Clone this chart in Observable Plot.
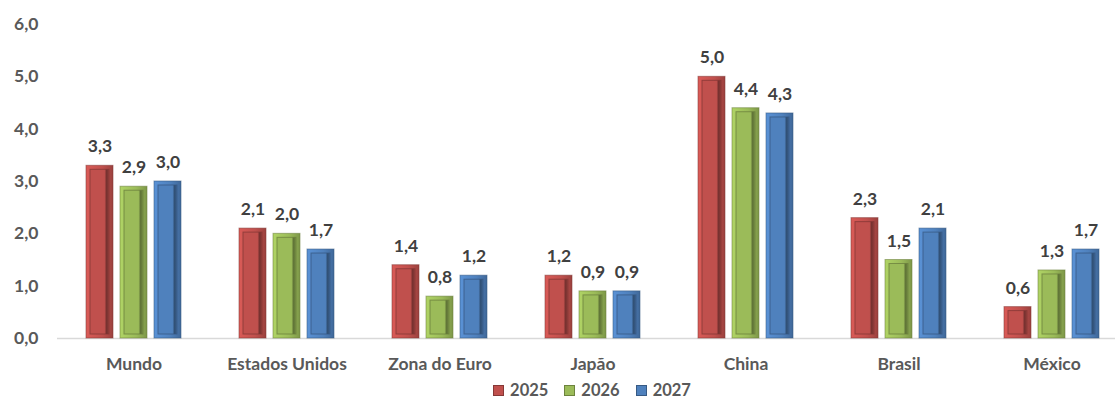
<!DOCTYPE html>
<html>
<head>
<meta charset="utf-8">
<script src="https://cdn.jsdelivr.net/npm/d3@7"></script>
<script src="https://cdn.jsdelivr.net/npm/@observablehq/plot@0.6"></script>
<style>
  body { margin: 0; background: #fff; font-family: Lato, "Open Sans", sans-serif; overflow: hidden; }
  #chart { height: 378px; }
  #legend {
    display: flex; justify-content: center; align-items: center;
    margin-left: 56px; width: 1072px; height: 19px; padding-top: 3px;
    font-weight: 700; font-size: 16.5px; line-height: 19px; color: #595959;
  }
  .item { display: flex; align-items: center; margin: 0 8px; }
  .sw { width: 9px; height: 9px; margin-right: 6px; border: 1px solid; }
</style>
</head>
<body>
<div id="chart"></div>
<div id="legend"></div>
<script>
// Projected GDP growth (%) by economy
const regions = ["Mundo", "Estados Unidos", "Zona do Euro", "Japão", "China", "Brasil", "México"];
const years = ["2025", "2026", "2027"];
const v2025 = [3.3, 2.1, 1.4, 1.2, 5.0, 2.3, 0.6];
const v2026 = [2.9, 2.0, 0.8, 0.9, 4.4, 1.5, 1.3];
const v2027 = [3.0, 1.7, 1.2, 0.9, 4.3, 2.1, 1.7];
const yTicks = [0, 1, 2, 3, 4, 5, 6];
const colors = ["#C0504D", "#9BBB59", "#4F81BD"];

const series = [v2025, v2026, v2027];
const rows = [];
regions.forEach((r, i) => years.forEach((y, j) => rows.push({region: r, year: y, value: series[j][i]})));

const fmt = d => d.toFixed(1).replace(".", ",");
const colorOf = y => colors[years.indexOf(y)];
const dark = y => d3.color(colorOf(y)).darker(1.1).formatHex();

const chart = Plot.plot({
  width: 1115,
  height: 378,
  marginLeft: 56,
  marginRight: -13,
  marginTop: 24,
  marginBottom: 40,
  style: {fontFamily: "Lato, 'Open Sans', sans-serif", fontSize: "17.5px", fontWeight: 700, color: "#595959", overflow: "visible"},
  fx: {domain: regions, padding: 0, label: null, tickSize: 0, tickPadding: 19},
  x: {domain: years, paddingInner: 0.22, paddingOuter: 0.86, axis: null},
  y: {domain: [0, 6], ticks: yTicks, tickFormat: fmt, label: null, tickSize: 0, tickPadding: 19},
  marks: [
    Plot.ruleY([0], {stroke: "#d9d9d9", strokeWidth: 1.5}),
    // outer bevel frame
    Plot.barY(rows, {fx: "region", x: "year", y: "value",
      fill: d => `url(#frame-${d.year})`, stroke: d => dark(d.year), strokeOpacity: 0.55, strokeWidth: 1}),
    // inner face
    Plot.barY(rows, {fx: "region", x: "year", y: "value", inset: 4,
      fill: d => `url(#face-${d.year})`, stroke: d => dark(d.year), strokeOpacity: 0.75, strokeWidth: 1}),
    Plot.text(rows, {fx: "region", x: "year", y: "value", text: d => fmt(d.value),
      dy: -19, fill: "#404040", fontSize: 17.5, fontWeight: 700})
  ]
});

// bevel gradients for each series
const defs = d3.select(chart).insert("defs", ":first-child");
years.forEach((y, j) => {
  const c = d3.color(colors[j]);
  const light = c.brighter(0.35).formatHex();
  const darker = c.darker(1.5).formatHex();
  const mid = c.darker(0.6).formatHex();
  const fr = defs.append("linearGradient").attr("id", `frame-${y}`).attr("x1", 0).attr("y1", 0).attr("x2", 1).attr("y2", 0);
  fr.append("stop").attr("offset", "0%").attr("stop-color", light);
  fr.append("stop").attr("offset", "60%").attr("stop-color", c.formatHex());
  fr.append("stop").attr("offset", "100%").attr("stop-color", mid);
  const fa = defs.append("linearGradient").attr("id", `face-${y}`).attr("x1", 0).attr("y1", 0).attr("x2", 1).attr("y2", 0);
  fa.append("stop").attr("offset", "0%").attr("stop-color", c.formatHex());
  fa.append("stop").attr("offset", "76%").attr("stop-color", c.formatHex());
  fa.append("stop").attr("offset", "88%").attr("stop-color", darker);
  fa.append("stop").attr("offset", "100%").attr("stop-color", mid);
});

document.getElementById("chart").append(chart);

const legend = d3.select("#legend");
years.forEach((y, j) => {
  const it = legend.append("div").attr("class", "item");
  it.append("div").attr("class", "sw").style("background", colors[j]).style("border-color", d3.color(colors[j]).darker(1).formatHex());
  it.append("span").text(y);
});
</script>
</body>
</html>
